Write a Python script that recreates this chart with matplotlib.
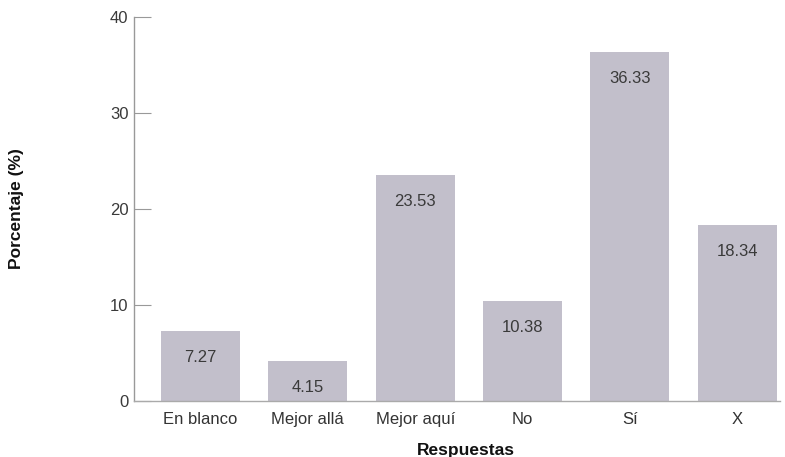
import matplotlib
matplotlib.use("Agg")
import matplotlib.pyplot as plt

categories = ["En blanco", "Mejor allá", "Mejor aquí", "No", "Sí", "X"]
values = [7.27, 4.15, 23.53, 10.38, 36.33, 18.34]
yticks = [0, 10, 20, 30, 40]

plt.rcParams['font.family'] = ['Liberation Sans', 'DejaVu Sans']

fig = plt.figure(figsize=(7.85, 4.57), dpi=100)
ax = fig.add_axes([134/785, 56/457, (780-134)/785, (401-17)/457])

x = list(range(len(categories)))
bars = ax.bar(x, values, width=0.735, color="#c2bfcb", zorder=2)
for xi, v in zip(x, values):
    ax.annotate(f"{v:.2f}", xy=(xi, v), xytext=(0, -19), textcoords="offset points",
                ha="center", va="center", fontsize=12, color="#3a3a3a")

ax.set_xlim(-0.62, 5.4)
ax.set_ylim(0, 40)
ax.set_yticks(yticks)
ax.set_xticks(x)
ax.set_xticklabels(categories)

for s in ["top", "right"]:
    ax.spines[s].set_visible(False)
ax.spines["left"].set_color("#999999")
ax.spines["bottom"].set_color("#aaaaaa")
ax.spines["left"].set_linewidth(1.0)
ax.spines["bottom"].set_linewidth(1.0)

ax.tick_params(axis="y", direction="in", length=12, color="#999999", labelsize=12,
               labelcolor="#3a3a3a", pad=4)
ax.tick_params(axis="x", length=0, labelsize=12, labelcolor="#333333", pad=8)

fig.text(466/785, 1 - 450/457, "Respuestas", ha="center", va="center",
         fontsize=12.5, fontweight="bold", color="#111111")
fig.text(17/785, 1 - 209/457, "Porcentaje (%)", rotation=90, ha="center", va="center",
         fontsize=12.5, fontweight="bold", color="#111111")

fig.savefig("out.png", dpi=100)
